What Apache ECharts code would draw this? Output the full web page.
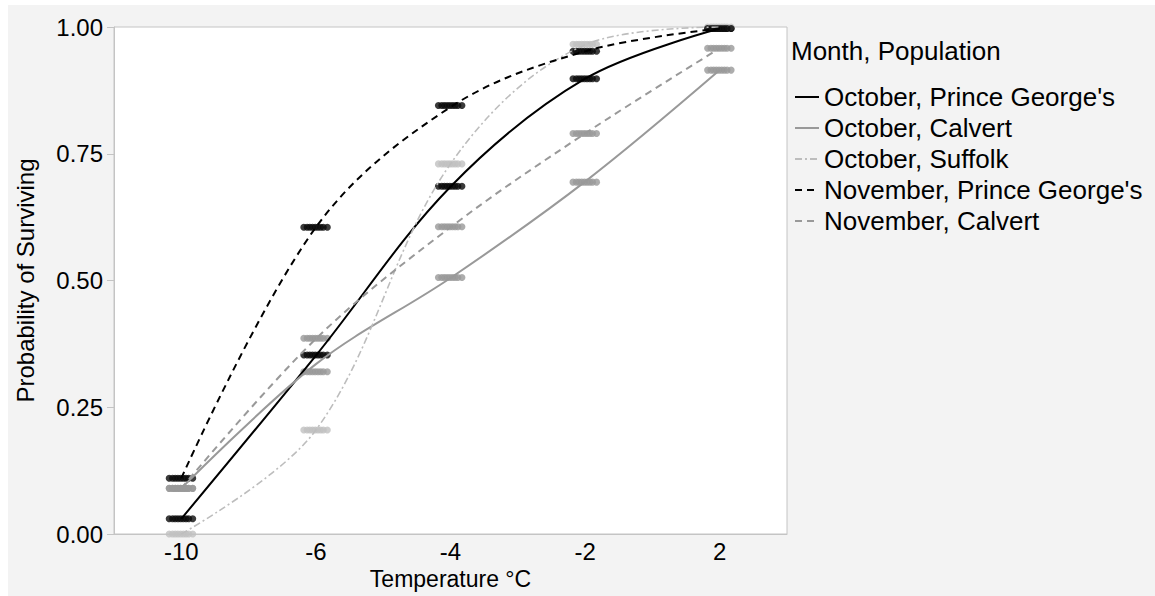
<!DOCTYPE html>
<html>
<head>
<meta charset="utf-8">
<script src="https://cdn.jsdelivr.net/npm/echarts@6/dist/echarts.min.js"></script>
<style>
  html, body { margin: 0; padding: 0; background: #ffffff; }
  #backdrop { position: absolute; left: 8px; top: 5px; right: 0; bottom: 0; background: #f3f3f3; }
  #chart { position: absolute; left: 0; top: 0; width: 1155px; height: 596px; }
</style>
</head>
<body>
<div id="backdrop"></div>
<div id="chart"></div>
<script>
// Temperature treatments (°C), shown as ordered categories
const temperatures = ['-10', '-6', '-4', '-2', '2'];

// Fitted survival curves
const fitOctPrinceGeorges = [0.03, 0.352, 0.685, 0.898, 0.997];
const fitOctCalvert       = [0.09, 0.335, 0.505, 0.695, 0.915];
const fitOctSuffolk       = [0.00, 0.205, 0.73, 0.965, 1.00];
const fitNovPrinceGeorges = [0.11, 0.605, 0.842, 0.952, 0.997];
const fitNovCalvert       = [0.09, 0.385, 0.605, 0.79, 0.958];

// Observed proportion surviving per group
const obsOctPrinceGeorges = [0.03, 0.353, 0.686, 0.898, 0.997];
const obsOctCalvert       = [0.09, 0.32, 0.506, 0.694, 0.915];
const obsOctSuffolk       = [0.00, 0.205, 0.73, 0.966, 1.00];
const obsNovPrinceGeorges = [0.11, 0.605, 0.845, 0.952, 0.997];
const obsNovCalvert       = [0.09, 0.386, 0.606, 0.79, 0.958];

// Horizontal jitter of replicate points around each category (category units)
const jitter = [-0.09, -0.065, -0.045, -0.025, -0.005, 0.015, 0.035, 0.055, 0.085];

const yTicks = [0, 0.25, 0.5, 0.75, 1];

const FONT = 'Liberation Sans, Arial, Helvetica, sans-serif';
const BLACK = '#000000';
const GRAY = '#999999';
const LIGHT = '#bdbdbd';

function jittered(values) {
  const pts = [];
  values.forEach((v, i) => {
    jitter.forEach(j => pts.push([i + j, v]));
  });
  return pts;
}

const groups = [
  { name: "October, Prince George's", fit: fitOctPrinceGeorges, obs: obsOctPrinceGeorges, color: BLACK, dot: '#0a0a0a', width: 2, dash: 'solid' },
  { name: 'October, Calvert', fit: fitOctCalvert, obs: obsOctCalvert, color: GRAY, dot: '#999999', width: 2, dash: 'solid' },
  { name: 'October, Suffolk', fit: fitOctSuffolk, obs: obsOctSuffolk, color: LIGHT, dot: '#c0c0c0', width: 1.6, dash: [7, 3, 2, 3] },
  { name: "November, Prince George's", fit: fitNovPrinceGeorges, obs: obsNovPrinceGeorges, color: BLACK, dot: '#0a0a0a', width: 2, dash: [7, 5] },
  { name: 'November, Calvert', fit: fitNovCalvert, obs: obsNovCalvert, color: GRAY, dot: '#999999', width: 2, dash: [7, 5] }
];

const series = [];
groups.forEach(g => {
  series.push({
    name: g.name + ' (observed)',
    type: 'scatter',
    xAxisIndex: 1,
    symbol: 'circle',
    symbolSize: 7,
    itemStyle: { color: g.dot },
    data: jittered(g.obs),
    z: 2,
    silent: true
  });
});
groups.forEach(g => {
  series.push({
    name: g.name,
    type: 'line',
    xAxisIndex: 0,
    data: g.fit,
    smooth: 0.35,
    symbol: 'none',
    lineStyle: { color: g.color, width: g.width, type: g.dash },
    itemStyle: { color: g.color },
    z: 3,
    silent: true
  });
});

const chart = echarts.init(document.getElementById('chart'), null, { renderer: 'svg' });
chart.setOption({
  backgroundColor: 'transparent',
  animation: false,
  textStyle: { fontFamily: FONT },
  title: {
    text: 'Month, Population',
    left: 791,
    top: 38,
    padding: 0,
    textStyle: { fontFamily: FONT, fontSize: 26, fontWeight: 'normal', color: '#000' }
  },
  legend: {
    data: groups.map(g => g.name),
    orient: 'vertical',
    left: 794,
    top: 84,
    padding: 0,
    itemWidth: 24,
    itemHeight: 14,
    itemGap: 5,
    selectedMode: false,
    itemStyle: { color: 'transparent', borderColor: 'transparent', borderWidth: 0 },
    textStyle: { fontFamily: FONT, fontSize: 26, color: '#000', lineHeight: 26 }
  },
  grid: {
    left: 114, top: 27, right: 368, bottom: 62,
    show: true, backgroundColor: '#ffffff', borderColor: '#c4c4c4', borderWidth: 1,
    containLabel: false
  },
  xAxis: [
    {
      type: 'category',
      data: temperatures,
      boundaryGap: true,
      name: 'Temperature °C',
      nameLocation: 'middle',
      nameGap: 33,
      nameTextStyle: { fontFamily: FONT, fontSize: 23, color: '#000' },
      axisLine: { onZero: false, lineStyle: { color: '#c4c4c4' } },
      axisTick: { show: false },
      axisLabel: { fontFamily: FONT, fontSize: 24, color: '#000', margin: 5 },
      splitLine: { show: false }
    },
    {
      type: 'value',
      min: -0.5,
      max: 4.5,
      show: false
    }
  ],
  yAxis: {
    type: 'value',
    min: 0,
    max: 1,
    interval: 0.25,
    name: 'Probability of Surviving',
    nameLocation: 'middle',
    nameGap: 77,
    nameTextStyle: { fontFamily: FONT, fontSize: 24, color: '#000' },
    axisLine: { show: true, onZero: false, lineStyle: { color: '#c4c4c4' } },
    axisTick: { show: true, length: 7, lineStyle: { color: '#c4c4c4' } },
    axisLabel: {
      fontFamily: FONT, fontSize: 24, color: '#000', margin: 11,
      formatter: v => (yTicks.indexOf(v) >= 0 ? v.toFixed(2) : '')
    },
    splitLine: { show: false }
  },
  series: series
});
</script>
</body>
</html>
